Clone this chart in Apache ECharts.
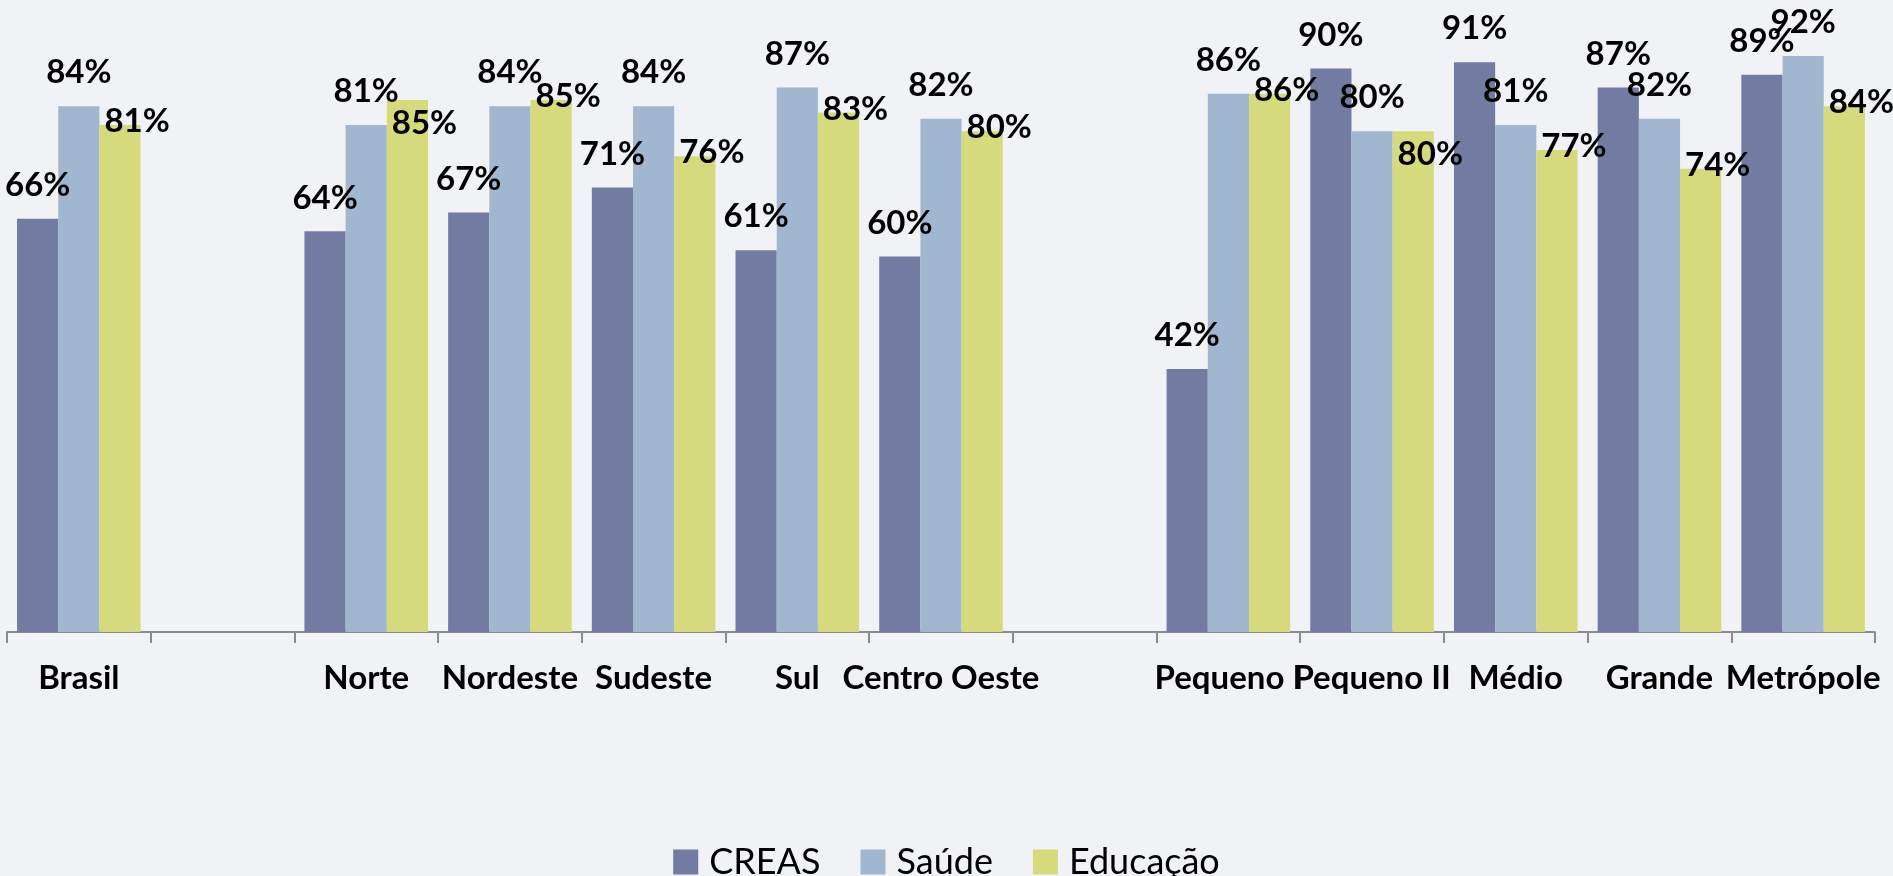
<!DOCTYPE html>
<html>
<head>
<meta charset="utf-8">
<script src="https://cdn.jsdelivr.net/npm/echarts@6/dist/echarts.min.js"></script>
<style>
  html, body { margin: 0; padding: 0; background: #f1f2f6; }
  #main { width: 1893px; height: 876px; }
</style>
</head>
<body>
<div id="main"></div>
<script>
// categorias (as vazias separam os grupos)
const categories = ['Brasil', '', 'Norte', 'Nordeste', 'Sudeste', 'Sul', 'Centro Oeste', '',
  'Pequeno I', 'Pequeno II', 'Médio', 'Grande', 'Metrópole'];
const creas    = [66, null, 64, 67, 71, 61, 60, null, 42, 90, 91, 87, 89];
const saude    = [84, null, 81, 84, 84, 87, 82, null, 86, 80, 81, 82, 92];
const educacao = [81, null, 85, 85, 76, 83, 80, null, 86, 80, 77, 74, 84];

// rótulos de Educação que no original ficam abaixo do topo da barra
const lowLabels = [2, 9];

const font = 'Lato, "Open Sans", sans-serif';

const labelBase = {
  show: true,
  position: 'top',
  formatter: '{c}%',
  color: '#000',
  fontFamily: font,
  fontWeight: 'bold',
  fontSize: 33
};

const eduData = educacao.map((v, i) => lowLabels.includes(i)
  ? { value: v, label: { offset: [17, 40] } }
  : v);

const chart = echarts.init(document.getElementById('main'));
chart.setOption({
  backgroundColor: '#f1f2f6',
  animation: false,
  grid: { left: 7, right: 18, top: 6, bottom: 244 },
  legend: {
    top: 839,
    left: 'center',
    itemWidth: 25,
    itemHeight: 25,
    itemGap: 40,
    icon: 'rect',
    textStyle: { fontFamily: font, fontSize: 36, color: '#000', padding: [0, 0, 0, 6] },
    data: ['CREAS', 'Saúde', 'Educação']
  },
  xAxis: {
    type: 'category',
    data: categories,
    axisLine: { lineStyle: { color: '#8c8c8c', width: 2 } },
    axisTick: { show: true, length: 11, lineStyle: { color: '#8c8c8c', width: 2 } },
    axisLabel: {
      interval: 0,
      hideOverlap: false,
      margin: 30,
      color: '#000',
      fontFamily: font,
      fontWeight: 'bold',
      fontSize: 33
    }
  },
  yAxis: {
    type: 'value',
    min: 0,
    max: 100,
    show: false,
    splitLine: { show: false }
  },
  series: [
    {
      name: 'CREAS', type: 'bar', data: creas,
      barGap: '0%', barCategoryGap: '14%',
      itemStyle: { color: '#727ba1' },
      label: Object.assign({}, labelBase, { distance: 17 })
    },
    {
      name: 'Saúde', type: 'bar', data: saude,
      barGap: '0%', barCategoryGap: '14%',
      itemStyle: { color: '#a1b7cf' },
      label: Object.assign({}, labelBase, { distance: 17 })
    },
    {
      name: 'Educação', type: 'bar', data: eduData,
      barGap: '0%', barCategoryGap: '14%',
      itemStyle: { color: '#d5db7c' },
      label: Object.assign({}, labelBase, { distance: 0, offset: [17, 13] })
    }
  ]
});
</script>
</body>
</html>
